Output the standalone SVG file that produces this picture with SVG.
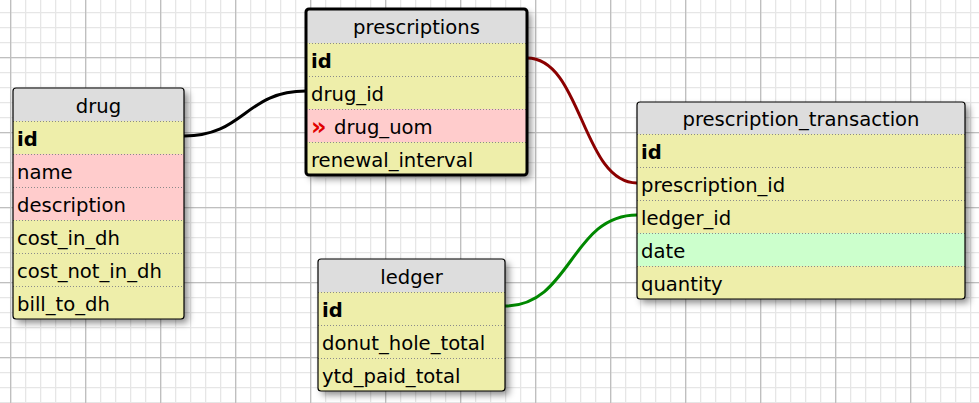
<svg xmlns="http://www.w3.org/2000/svg" width="979" height="403" viewBox="0 0 979 403">
<defs>
<pattern id="minor" x="10" y="12" width="15" height="15" patternUnits="userSpaceOnUse">
<path d="M0,0 V15 M0,0 H15" stroke="#e6e6e6" stroke-width="2.6" fill="none"/>
</pattern>
<pattern id="major" x="10" y="57" width="75" height="75" patternUnits="userSpaceOnUse">
<path d="M0,0 V75 M0,0 H75" stroke="#bfbfbf" stroke-width="2.6" fill="none"/>
</pattern>
<filter id="shadow" x="-10%" y="-10%" width="130%" height="130%">
<feDropShadow dx="4" dy="4" stdDeviation="3.5" flood-color="#000" flood-opacity="0.45"/>
</filter>
<style>
.bg{fill:#eeeeaa;stroke:none;filter:url(#shadow)}
.hd{fill:#dddddd}
.pink{fill:#ffcccc}
.green{fill:#ccffcc}
.sep{stroke:#8a8a8a;stroke-width:1;stroke-dasharray:1 2;fill:none}
.border{fill:none;stroke:#000;stroke-width:1.2}
.sel{fill:none;stroke:#000;stroke-width:3}
text{font-family:"DejaVu Sans",Verdana,sans-serif;font-size:19.6px;fill:#000}
.title{text-anchor:middle}
.pk{font-weight:bold}
.mark{fill:#e00000;font-weight:bold;font-size:24px}
.conn{fill:none;stroke-width:3}
</style>
</defs>
<rect width="979" height="403" fill="#ffffff"/>
<rect width="979" height="403" fill="url(#minor)"/>
<rect width="979" height="403" fill="url(#major)"/>

<g id="connectors">
<path class="conn" stroke="#000000" d="M184,136 C245,136 245,91 306,91"/>
<path class="conn" stroke="#8b0000" d="M527,58 C582,58 582,183 637,183"/>
<path class="conn" stroke="#008800" d="M505,306 C571,306 571,215 637,215"/>
</g>

<g id="drug">
<rect class="bg" x="13" y="88" width="171" height="231" rx="3"/>
<path class="hd" d="M16,88 H181 A3,3 0 0 1 184,91 V121 H13 V91 A3,3 0 0 1 16,88 Z"/>
<rect class="pink" x="13" y="154" width="171" height="66"/>
<path class="sep" d="M13,121.5 H184 M13,154.5 H184 M13,187.5 H184 M13,220.5 H184 M13,253.5 H184 M13,286.5 H184"/>
<rect class="border" x="13" y="88" width="171" height="231" rx="3"/>
<text class="title" x="98.5" y="112.5">drug</text>
<text class="pk" x="17" y="145.5">id</text>
<text x="17" y="178.5">name</text>
<text x="17" y="211.5">description</text>
<text x="17" y="244.5">cost_in_dh</text>
<text x="17" y="277.5">cost_not_in_dh</text>
<text x="17" y="310.5">bill_to_dh</text>
</g>

<g id="prescriptions">
<rect class="bg" x="306" y="9" width="221" height="166" rx="3"/>
<path class="hd" d="M309,9 H524 A3,3 0 0 1 527,12 V43 H306 V12 A3,3 0 0 1 309,9 Z"/>
<rect class="pink" x="306" y="109" width="221" height="33"/>
<path class="sep" d="M306,43.5 H527 M306,76.5 H527 M306,109.5 H527 M306,142.5 H527"/>
<rect class="sel" x="306" y="9" width="221" height="166" rx="3"/>
<text class="title" x="416.5" y="34">prescriptions</text>
<text class="pk" x="311" y="67.5">id</text>
<text x="311" y="100.5">drug_id</text>
<text class="mark" x="311" y="135">»</text>
<text x="334" y="133.5">drug_uom</text>
<text x="311" y="166.5">renewal_interval</text>
</g>

<g id="prescription_transaction">
<rect class="bg" x="637" y="102" width="328" height="197" rx="3"/>
<path class="hd" d="M640,102 H962 A3,3 0 0 1 965,105 V134 H637 V105 A3,3 0 0 1 640,102 Z"/>
<rect class="green" x="637" y="233" width="328" height="33"/>
<path class="sep" d="M637,134.5 H965 M637,167.5 H965 M637,200.5 H965 M637,233.5 H965 M637,266.5 H965"/>
<rect class="border" x="637" y="102" width="328" height="197" rx="3"/>
<text class="title" x="801" y="126">prescription_transaction</text>
<text class="pk" x="641" y="158.5">id</text>
<text x="641" y="191.5">prescription_id</text>
<text x="641" y="224.5">ledger_id</text>
<text x="641" y="257.5">date</text>
<text x="641" y="290.5">quantity</text>
</g>

<g id="ledger">
<rect class="bg" x="318" y="259" width="187" height="132" rx="3"/>
<path class="hd" d="M321,259 H502 A3,3 0 0 1 505,262 V292 H318 V262 A3,3 0 0 1 321,259 Z"/>
<path class="sep" d="M318,292.5 H505 M318,325.5 H505 M318,358.5 H505"/>
<rect class="border" x="318" y="259" width="187" height="132" rx="3"/>
<text class="title" x="411.5" y="283.5">ledger</text>
<text class="pk" x="322" y="316.5">id</text>
<text x="322" y="349.5">donut_hole_total</text>
<text x="322" y="382.5">ytd_paid_total</text>
</g>
</svg>
